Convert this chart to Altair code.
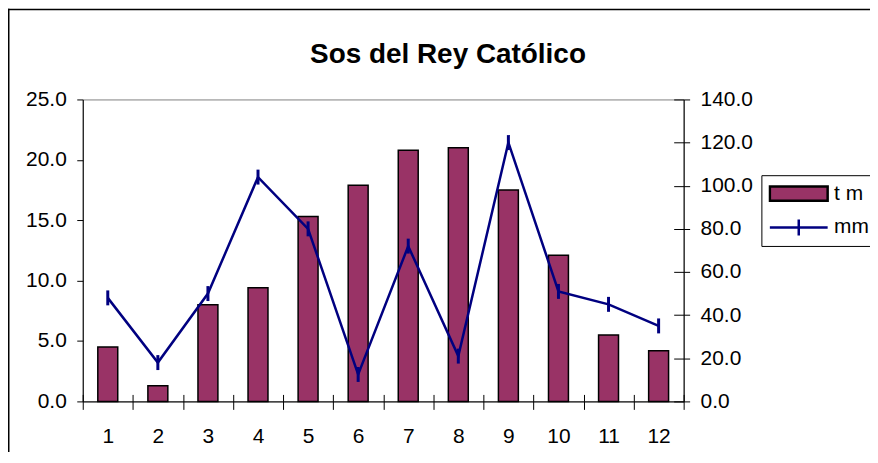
import altair as alt
import pandas as pd

# ---- data ----
meses = [1, 2, 3, 4, 5, 6, 7, 8, 9, 10, 11, 12]
t_m = [4.5, 1.3, 8.0, 9.4, 15.3, 17.9, 20.8, 21.0, 17.5, 12.1, 5.5, 4.2]
mm = [48, 18, 50, 104, 80, 12.5, 72, 21, 120, 51, 45, 35]
series = ["t m", "mm"]
left_ticks = [0, 5, 10, 15, 20, 25]
right_ticks = [0, 20, 40, 60, 80, 100, 120, 140]

BAR = "#993366"
LINE = "#000080"
FONT = "Liberation Sans, Arial, sans-serif"

df = pd.DataFrame({"mes": meses, "tm": t_m, "mm": mm})

xscale = alt.Scale(paddingInner=0, paddingOuter=0)

def xenc(axis):
    return alt.X("mes:O", scale=xscale, axis=axis)

main_x_axis = alt.Axis(orient="bottom", title=None, labelAngle=0, tickBand="extent", tickSize=8,
                       labelPadding=16, domainColor="black", tickColor="black")
inner_x_axis = alt.Axis(orient="bottom", title=None, labels=False, domain=False, tickBand="extent",
                        tickSize=7, offset=-7, tickColor="black")

bars = alt.Chart(df).mark_bar(size=20, fill=BAR, stroke="black", strokeWidth=1.5).encode(
    x=xenc(main_x_axis),
    y=alt.Y("tm:Q", scale=alt.Scale(domain=[0, 25], nice=False),
            axis=alt.Axis(orient="left", values=left_ticks, format=".1f", title=None,
                          grid=False, tickSize=6, labelPadding=10.5)),
)

line = alt.Chart(df).mark_line(color=LINE, strokeWidth=2.5).encode(
    x=xenc(None),
    y=alt.Y("mm:Q", scale=alt.Scale(domain=[0, 140], nice=False),
            axis=alt.Axis(orient="right", values=right_ticks, format=".1f", title=None,
                          grid=False, tickSize=6, labelPadding=10.5)),
)

markers = alt.Chart(df).mark_point(shape="M0,-1V1", size=225, stroke=LINE, strokeWidth=3,
                                   filled=False, opacity=1).encode(
    x=xenc(inner_x_axis),
    y=alt.Y("mm:Q", scale=alt.Scale(domain=[0, 140], nice=False),
            axis=alt.Axis(orient="right", values=right_ticks, labels=False, domain=False,
                          title=None, grid=False, tickSize=10, offset=-10)),
)

rect_path = "M-1,-0.25H1V0.25H-1Z"
line_path = "M-1,0H1M0,-0.28V0.28"
leg = alt.Legend(title=None, orient="none", legendX=681, legendY=76, strokeColor="black",
                 fillColor="white", padding=7, symbolSize=3364, symbolStrokeWidth=2.5,
                 symbolOpacity=1,
                 labelFontSize=21, labelFont=FONT, labelColor="black", clipHeight=23,
                 rowPadding=11, labelOffset=5)

legend_layer = alt.Chart(pd.DataFrame({"serie": series})).transform_filter("false").mark_point(
    filled=True, opacity=1).encode(
    fill=alt.Fill("serie:N", scale=alt.Scale(domain=series, range=[BAR, "transparent"]), legend=leg),
    stroke=alt.Stroke("serie:N", scale=alt.Scale(domain=series, range=["black", LINE]), legend=leg),
    shape=alt.Shape("serie:N", scale=alt.Scale(domain=series, range=[rect_path, line_path]), legend=leg),
)

# outer chart frame as thin filled bands (top and left edges; right/bottom lie outside the picture)
one = pd.DataFrame({"k": [0]})
frame_top = alt.Chart(one).mark_rect(fill="black", strokeWidth=0).encode(
    x=alt.value(-75), x2=alt.value(800), y=alt.value(-91), y2=alt.value(-89.5))
frame_left = alt.Chart(one).mark_rect(fill="black", strokeWidth=0).encode(
    x=alt.value(-75), x2=alt.value(-73.5), y=alt.value(-91), y2=alt.value(400))

chart = alt.layer(frame_top, frame_left, bars, line, markers, legend_layer).resolve_scale(
    y="independent").resolve_axis(x="independent", y="independent").properties(
    width=603, height=303,
    padding={"left": 75, "top": 91, "right": 187, "bottom": 50},
    autosize=alt.AutoSizeParams(type="none"),
    title=alt.TitleParams("Sos del Rey Católico", font=FONT, fontSize=28, fontWeight="bold",
                          color="black", anchor="middle", dx=65, dy=107.5, offset=25,
                          baseline="alphabetic"),
).configure_view(fill="#C0C0C0", stroke="#808080", strokeWidth=1).configure_axis(
    labelFont=FONT, labelFontSize=21, labelColor="black", tickColor="black",
    domainColor="black", tickWidth=1, domainWidth=1)

chart.save("out.html", embed_options={"renderer": "svg", "actions": False})
